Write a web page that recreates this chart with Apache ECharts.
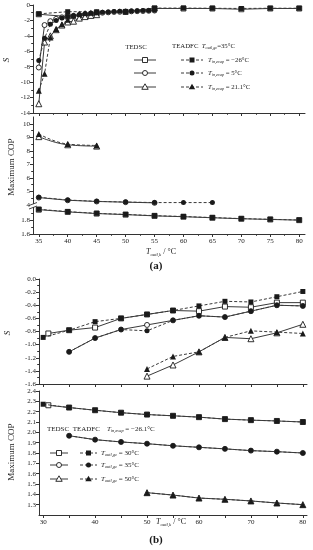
<!DOCTYPE html>
<html><head><meta charset="utf-8">
<script src="https://cdn.jsdelivr.net/npm/echarts@6/dist/echarts.min.js"></script>
<style>html,body{margin:0;padding:0;background:#fff}#c{width:313px;height:550px}</style>
</head><body><div id="c"></div>
<script>
// ================= DATA =================
// (a) upper panel: S vs T_outl,k  (T_outl,gc = 35 °C)
const aS_x_m26 = [35,40,45,50,55,60,65,70,75,80];
const aS_tedsc_m26 = [-1.2,-1.5,-1.05,-0.9,-0.45,-0.45,-0.45,-0.55,-0.45,-0.45];
const aS_teadfc_m26 = [-1.15,-0.87,-0.87,-0.87,-0.4,-0.4,-0.42,-0.45,-0.42,-0.42];
const aS_x_5 = [35,36,37,38,39,40,41,42,43,44,45,46,47,48,49,50,51,52,53,54,55];
const aS_tedsc_5 = [-8.1,-2.6,-2.1,-1.8,-1.6,-1.5,-1.4,-1.3,-1.2,-1.15,-1.1,-1.0,-0.95,-0.9,-0.88,-0.85,-0.82,-0.8,-0.78,-0.75,-0.72];
const aS_teadfc_5 = [-7.2,-4.3,-2.5,-2.0,-1.7,-1.5,-1.4,-1.25,-1.15,-1.05,-1.0,-0.95,-0.9,-0.85,-0.82,-0.8,-0.78,-0.75,-0.72,-0.7,-0.68];
const aS_x_21 = [35,36,37,38,39,40,41,42,43,44,45];
const aS_tedsc_21 = [-12.8,-4.8,-4.0,-3.2,-2.6,-2.2,-2.1,-1.7,-1.5,-1.35,-1.25];
const aS_teadfc_21 = [-11.1,-8.9,-4.2,-3.1,-2.5,-1.9,-1.4,-1.15,-1.05,-1.0,-0.95];
// (a) lower panel: Maximum COP
const aC_x_m26 = [35,40,45,50,55,60,65,70,75,80];
const aC_tedsc_m26 = [1.948,1.916,1.892,1.877,1.859,1.847,1.832,1.818,1.808,1.798];
const aC_teadfc_m26 = [1.953,1.92,1.895,1.88,1.862,1.85,1.835,1.82,1.81,1.80];
const aC_x_5_tedsc = [35,40,45,50,55];
const aC_tedsc_5 = [4.55,4.35,4.26,4.21,4.16];
const aC_x_5_teadfc = [35,40,45,50,55,60,65];
const aC_teadfc_5 = [4.57,4.37,4.27,4.22,4.18,4.18,4.18];
const aC_x_21 = [35,40,45];
const aC_tedsc_21 = [9.05,8.45,8.35];
const aC_teadfc_21 = [9.25,8.5,8.4];
// (b) upper panel: S vs T_outl,k  (T_in,evap = -26.1 °C)
const bS_x_tedsc_30 = [31,35,40,45,50,55,60,65,70,75,80];
const bS_tedsc_30 = [-0.83,-0.78,-0.74,-0.60,-0.54,-0.48,-0.49,-0.42,-0.43,-0.36,-0.36];
const bS_x_teadfc_30 = [30,35,40,45,50,55,60,65,70,75,80];
const bS_teadfc_30 = [-0.89,-0.78,-0.65,-0.60,-0.54,-0.48,-0.41,-0.34,-0.35,-0.27,-0.19];
const bS_x_35 = [35,40,45,50,55,60,65,70,75,80];
const bS_tedsc_35 = [-1.11,-0.90,-0.77,-0.70,-0.63,-0.56,-0.58,-0.49,-0.40,-0.41];
const bS_teadfc_35 = [-1.11,-0.90,-0.77,-0.79,-0.63,-0.56,-0.58,-0.49,-0.40,-0.41];
const bS_x_50 = [50,55,60,65,70,75,80];
const bS_tedsc_50 = [-1.48,-1.31,-1.11,-0.89,-0.91,-0.82,-0.69];
const bS_teadfc_50 = [-1.37,-1.18,-1.11,-0.89,-0.79,-0.81,-0.83];
// (b) lower panel: Maximum COP
const bC_x_tedsc_30 = [31,35,40,45,50,55,60,65,70,75,80];
const bC_tedsc_30 = [2.262,2.24,2.214,2.19,2.172,2.16,2.147,2.128,2.118,2.11,2.10];
const bC_x_teadfc_30 = [30,35,40,45,50,55,60,65,70,75,80];
const bC_teadfc_30 = [2.272,2.24,2.214,2.19,2.172,2.16,2.147,2.128,2.118,2.11,2.10];
const bC_x_35 = [35,40,45,50,55,60,65,70,75,80];
const bC_35 = [1.967,1.929,1.907,1.89,1.87,1.855,1.84,1.823,1.813,1.80];
const bC_x_50 = [50,55,60,65,70,75,80];
const bC_50 = [1.416,1.393,1.364,1.352,1.336,1.316,1.30];
// tick values
const aTicksX = [35,40,45,50,55,60,65,70,75,80];
const aMinorX = [37.5,42.5,47.5,52.5,57.5,62.5,67.5,72.5,77.5];
const aTicksCOPup = [4,5,6,7,8,9,10];
const bTicksX = [30,35,40,45,50,55,60,65,70,75,80];
const bLabelsX = [30,40,50,60,70,80];

// ================= HELPERS =================
const SERIF = '"Liberation Serif","DejaVu Serif",serif';
const INK = '#1a1a1a';
const LINE = '#3a3a3a';
const zip = (x, y) => x.map((v, i) => [v, y[i]]);

function ser(x, y, xi, yi, open, shape, smooth) {
  return {
    type: 'line', xAxisIndex: xi, yAxisIndex: yi, data: zip(x, y),
    symbol: shape, symbolSize: shape === 'triangle' ? 6 : 5,
    smooth: smooth ? 0.45 : false,
    lineStyle: { color: LINE, width: 1, type: open ? 'solid' : [3, 2] },
    itemStyle: { color: open ? '#fff' : INK, borderColor: INK, borderWidth: open ? 0.9 : 0 },
    z: open ? 2 : 3, silent: true, animation: false
  };
}

const axLine = { show: true, onZero: false, lineStyle: { color: '#333', width: 1 } };
const lblStyle = { fontFamily: SERIF, fontSize: 7, color: INK };

function xMain(grid, min, max, ticks, labels) {
  return {
    type: 'value', gridIndex: grid, min, max, position: 'bottom',
    axisLine: axLine, splitLine: { show: false },
    axisTick: { show: true, length: 3, customValues: ticks, lineStyle: { color: '#333' } },
    axisLabel: labels ? Object.assign({ show: true, margin: 4, customValues: labels }, lblStyle) : { show: false }
  };
}
function xMinor(grid, min, max, ticks) {
  return {
    type: 'value', gridIndex: grid, min, max, position: 'bottom',
    axisLine: { show: false, onZero: false }, splitLine: { show: false },
    axisTick: { show: true, length: 1.8, customValues: ticks, lineStyle: { color: '#333' } },
    axisLabel: { show: false }
  };
}
function yAx(grid, min, max, interval, extra) {
  return Object.assign({
    type: 'value', gridIndex: grid, min, max, interval,
    axisLine: axLine, splitLine: { show: false },
    axisTick: { show: true, length: 3, lineStyle: { color: '#333' } },
    minorTick: { show: true, splitNumber: 2, length: 1.8, lineStyle: { color: '#333' } },
    axisLabel: Object.assign({ margin: 3 }, lblStyle)
  }, extra || {});
}

// text runs (for subscripts)
const cv = document.createElement('canvas').getContext('2d');
function runs(x0, y, parts) {
  let x = x0; const els = [];
  parts.forEach(p => {
    const font = (p.i ? 'italic ' : '') + (p.b ? 'bold ' : '') + p.s + 'px ' + SERIF;
    els.push({ type: 'text', x: x, y: y + (p.dy || 0), silent: true, z: 50,
      style: { text: p.t, font: font, fill: INK, textAlign: 'left', textVerticalAlign: 'middle' } });
    cv.font = font; x += cv.measureText(p.t).width;
  });
  return els;
}
function txt(x, y, t, size, opts) {
  opts = opts || {};
  const font = (opts.i ? 'italic ' : '') + (opts.b ? 'bold ' : '') + size + 'px ' + SERIF;
  return { type: 'text', x, y, rotation: opts.rot || 0, silent: true, z: 50,
    style: { text: t, font, fill: INK, textAlign: opts.align || 'center', textVerticalAlign: 'middle' } };
}
function glyph(x1, x2, cy, shape, open, dashed) {
  const cx = (x1 + x2) / 2, els = [];
  els.push({ type: 'line', silent: true, z: 50, shape: { x1, y1: cy, x2, y2: cy },
    style: { stroke: LINE, lineWidth: 1, lineDash: dashed ? [3, 2] : null } });
  const st = { fill: open ? '#fff' : INK, stroke: INK, lineWidth: open ? 0.9 : 0 };
  if (shape === 'rect') els.push({ type: 'rect', silent: true, z: 51, shape: { x: cx - 2.5, y: cy - 2.5, width: 5, height: 5 }, style: st });
  if (shape === 'circle') els.push({ type: 'circle', silent: true, z: 51, shape: { cx, cy, r: 2.5 }, style: st });
  if (shape === 'triangle') els.push({ type: 'polygon', silent: true, z: 51, shape: { points: [[cx, cy - 3.2], [cx + 3.2, cy + 2.3], [cx - 3.2, cy + 2.3]] }, style: st });
  return els;
}

// ================= OPTION =================
const grids = [
  { left: 33, top: 5, width: 272, height: 108 },    // (a) S
  { left: 33, top: 117, width: 272, height: 88 },   // (a) COP upper
  { left: 33, top: 206, width: 272, height: 28 },   // (a) COP lower
  { left: 39, top: 279, width: 268, height: 105 },  // (b) S
  { left: 39, top: 391, width: 268, height: 124 }   // (b) COP
];

const xAxes = [
  xMain(0, 34, 81, aTicksX, null),           // 0
  xMinor(0, 34, 81, aMinorX),                // 1
  { type: 'value', gridIndex: 1, min: 34, max: 81, show: false }, // 2
  xMain(2, 34, 81, aTicksX, aTicksX),        // 3
  xMinor(2, 34, 81, aMinorX),                // 4
  xMain(3, 29.2, 80.8, bTicksX, null),       // 5
  xMain(4, 29.2, 80.8, bTicksX, bLabelsX)    // 6
];

const yAxes = [
  yAx(0, -14, 0, 2),
  yAx(1, 4, 10.5, 1, {
    axisTick: { show: true, length: 3, customValues: aTicksCOPup, lineStyle: { color: '#333' } },
    axisLabel: Object.assign({ margin: 3, customValues: aTicksCOPup }, lblStyle)
  }),
  yAx(2, 1.6, 2.0, 0.2, { axisLabel: Object.assign({ margin: 3, showMaxLabel: false, formatter: v => v.toFixed(1) }, lblStyle) }),
  yAx(3, -1.6, 0, 0.2, { axisLabel: Object.assign({ margin: 3, formatter: v => v.toFixed(1) }, lblStyle) }),
  yAx(4, 1.2, 2.4, 0.1, { minorTick: { show: false }, axisLabel: Object.assign({ margin: 3, showMinLabel: false, formatter: v => v.toFixed(1) }, lblStyle) })
];

const series = [
  // (a) S
  ser(aS_x_m26, aS_tedsc_m26, 0, 0, true, 'rect'),
  ser(aS_x_5, aS_tedsc_5, 0, 0, true, 'circle'),
  ser(aS_x_21, aS_tedsc_21, 0, 0, true, 'triangle'),
  ser(aS_x_m26, aS_teadfc_m26, 0, 0, false, 'rect'),
  ser(aS_x_5, aS_teadfc_5, 0, 0, false, 'circle'),
  ser(aS_x_21, aS_teadfc_21, 0, 0, false, 'triangle'),
  // (a) COP
  ser(aC_x_m26, aC_tedsc_m26, 3, 2, true, 'rect'),
  ser(aC_x_m26, aC_teadfc_m26, 3, 2, false, 'rect'),
  ser(aC_x_5_tedsc, aC_tedsc_5, 2, 1, true, 'circle'),
  ser(aC_x_5_teadfc, aC_teadfc_5, 2, 1, false, 'circle'),
  ser(aC_x_21, aC_tedsc_21, 2, 1, true, 'triangle', true),
  ser(aC_x_21, aC_teadfc_21, 2, 1, false, 'triangle', true),
  // (b) S
  ser(bS_x_tedsc_30, bS_tedsc_30, 5, 3, true, 'rect'),
  ser(bS_x_35, bS_tedsc_35, 5, 3, true, 'circle'),
  ser(bS_x_50, bS_tedsc_50, 5, 3, true, 'triangle'),
  ser(bS_x_teadfc_30, bS_teadfc_30, 5, 3, false, 'rect'),
  ser(bS_x_35, bS_teadfc_35, 5, 3, false, 'circle'),
  ser(bS_x_50, bS_teadfc_50, 5, 3, false, 'triangle'),
  // (b) COP
  ser(bC_x_tedsc_30, bC_tedsc_30, 6, 4, true, 'rect'),
  ser(bC_x_35, bC_35, 6, 4, true, 'circle'),
  ser(bC_x_50, bC_50, 6, 4, true, 'triangle'),
  ser(bC_x_teadfc_30, bC_teadfc_30, 6, 4, false, 'rect'),
  ser(bC_x_35, bC_35, 6, 4, false, 'circle'),
  ser(bC_x_50, bC_50, 6, 4, false, 'triangle')
];

let g = [];
// axis names
g.push(txt(7, 60, 'S', 9, { i: true, rot: Math.PI / 2 }));
g.push(txt(12, 167, 'Maximum COP', 9, { rot: Math.PI / 2 }));
g.push(txt(8, 333, 'S', 9, { i: true, rot: Math.PI / 2 }));
g.push(txt(12, 452, 'Maximum COP', 9, { rot: Math.PI / 2 }));
g = g.concat(runs(146, 252, [{ t: 'T', s: 8, i: true }, { t: 'outl,k', s: 4.8, i: true, dy: 2.5 }, { t: ' / °C', s: 8 }]));
g = g.concat(runs(156, 522, [{ t: 'T', s: 8, i: true }, { t: 'outl,k', s: 4.8, i: true, dy: 2.5 }, { t: ' / °C', s: 8 }]));
g.push(txt(156, 266, '(a)', 11, { b: true }));
g.push(txt(156, 540, '(b)', 11, { b: true }));
// axis break mark (a)
g.push({ type: 'rect', silent: true, z: 40, shape: { x: 30, y: 204, width: 6, height: 3 }, style: { fill: '#fff' } });
g.push({ type: 'line', silent: true, z: 41, shape: { x1: 29, y1: 205.5, x2: 37, y2: 202.5 }, style: { stroke: '#333', lineWidth: 0.9 } });
g.push({ type: 'line', silent: true, z: 41, shape: { x1: 29, y1: 209, x2: 37, y2: 206 }, style: { stroke: '#333', lineWidth: 0.9 } });

// legend (a)
g.push(txt(136, 47, 'TEDSC', 6.8, {}));
g = g.concat(runs(172, 46, [{ t: 'TEADFC  ', s: 6.8 }, { t: 'T', s: 6.8, i: true }, { t: 'outl,gc', s: 4.2, i: true, dy: 2 }, { t: '=35°C', s: 6.8 }]));
const aRows = [[60, 'rect', '−26°C'], [73, 'circle', '5°C'], [87, 'triangle', '21.1°C']];
aRows.forEach(r => {
  g = g.concat(glyph(134, 156, r[0], r[1], true, false));
  g = g.concat(glyph(181, 203, r[0], r[1], false, true));
  g = g.concat(runs(208, r[0], [{ t: 'T', s: 6.8, i: true }, { t: 'in,evap', s: 4.2, i: true, dy: 2 }, { t: ' = ' + r[2], s: 6.8 }]));
});
// legend (b)
g = g.concat(runs(47, 429, [{ t: 'TEDSC  TEADFC    ', s: 7 }, { t: 'T', s: 7, i: true }, { t: 'in,evap', s: 4.4, i: true, dy: 2 }, { t: ' = −26.1°C', s: 7 }]));
const bRows = [[453, 'rect', '30°C'], [465, 'circle', '35°C'], [479, 'triangle', '50°C']];
bRows.forEach(r => {
  g = g.concat(glyph(50, 68, r[0], r[1], true, false));
  g = g.concat(glyph(80, 97, r[0], r[1], false, true));
  g = g.concat(runs(101, r[0], [{ t: 'T', s: 7, i: true }, { t: 'outl,gc', s: 4.4, i: true, dy: 2 }, { t: ' = ' + r[2], s: 7 }]));
});

const chart = echarts.init(document.getElementById('c'), null, { renderer: 'canvas' });
chart.setOption({
  animation: false,
  backgroundColor: '#fff',
  grid: grids,
  xAxis: xAxes,
  yAxis: yAxes,
  series: series,
  graphic: { elements: g }
});
</script>
</body></html>
